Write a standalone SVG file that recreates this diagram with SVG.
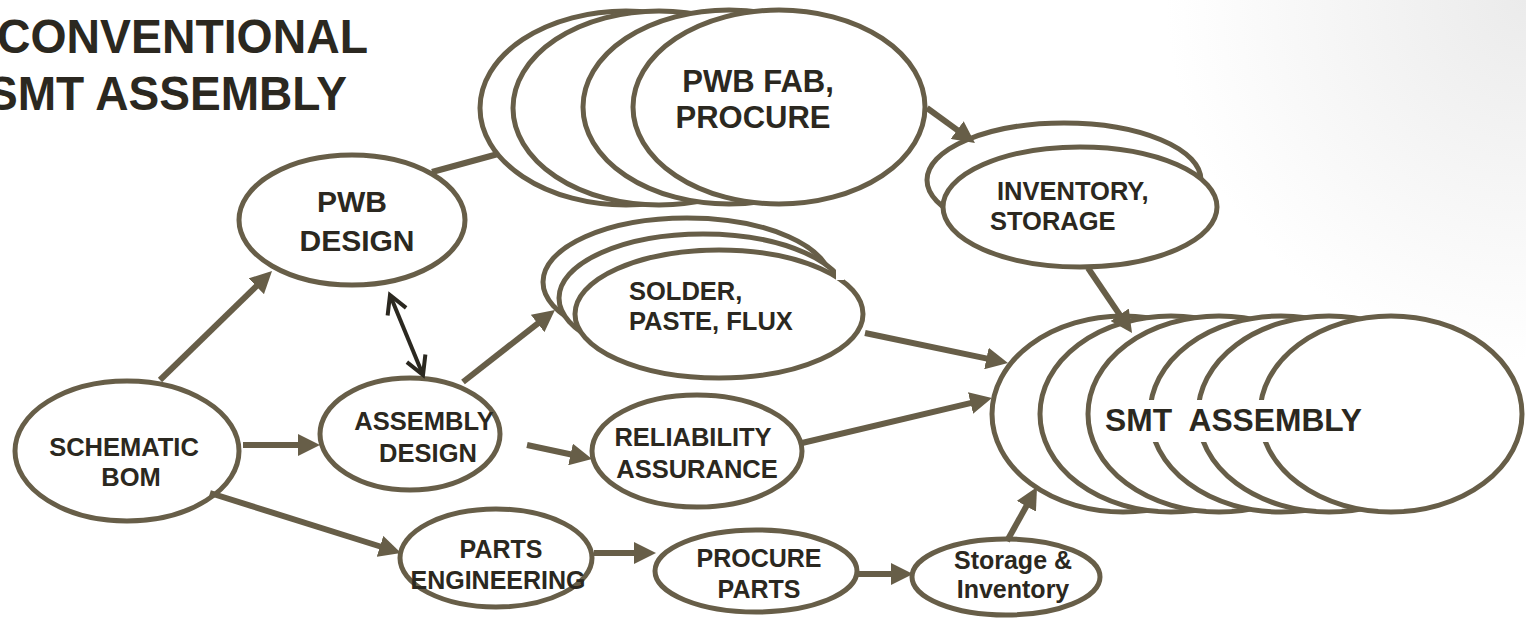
<svg xmlns="http://www.w3.org/2000/svg" width="1526" height="623" viewBox="0 0 1526 623">
<defs>
<radialGradient id="bg" cx="1526" cy="0" r="360" gradientUnits="userSpaceOnUse">
<stop offset="0" stop-color="#ebebeb"/>
<stop offset="1" stop-color="#ffffff"/>
</radialGradient>
<marker id="ah" viewBox="0 -11 22 22" refX="2" refY="0" markerWidth="22" markerHeight="22" markerUnits="userSpaceOnUse" orient="auto">
<path d="M0,-11 L22,0 L0,11 Z" fill="#675e48"/>
</marker>
<marker id="oh" viewBox="-22 -12 28 24" refX="0" refY="0" markerWidth="28" markerHeight="24" markerUnits="userSpaceOnUse" orient="auto-start-reverse">
<path d="M-18,-10 L0,0 L-18,10" fill="none" stroke="#2b2820" stroke-width="4"/>
</marker>
<style>
.n { fill:#ffffff; stroke:#675e48; stroke-width:5; }
.t { font-family:"Liberation Sans", Arial, sans-serif; font-weight:bold; fill:#2b2820; }
.m { text-anchor:middle; }
.c { fill:none; stroke:#675e48; stroke-width:6; marker-end:url(#ah); }
.l { fill:none; stroke:#675e48; stroke-width:6; }
.d { fill:none; stroke:#2b2820; stroke-width:4; marker-start:url(#oh); marker-end:url(#oh); }
</style>
</defs>
<rect x="0" y="0" width="1526" height="623" fill="url(#bg)"/>

<g id="title" class="t" font-size="48">
<text x="-3" y="53" textLength="371" lengthAdjust="spacingAndGlyphs">CONVENTIONAL</text>
<text x="-13" y="110" textLength="360" lengthAdjust="spacingAndGlyphs">SMT ASSEMBLY</text>
</g>

<g id="schematic-bom">
<ellipse class="n" cx="127" cy="451" rx="112" ry="70"/>
<text class="t m" font-size="25.5" x="124" y="456">SCHEMATIC</text>
<text class="t m" font-size="25.5" x="131" y="486">BOM</text>
</g>

<g id="pwb-design">
<ellipse class="n" cx="352" cy="220" rx="113" ry="65"/>
<text class="t m" font-size="30" x="352" y="212">PWB</text>
<text class="t m" font-size="30" x="357" y="251">DESIGN</text>
</g>

<g id="assembly-design">
<ellipse class="n" cx="410" cy="434" rx="90" ry="56"/>
<text class="t m" font-size="25.5" x="424" y="430">ASSEMBLY</text>
<text class="t m" font-size="25.5" x="428" y="462">DESIGN</text>
</g>

<g id="pwb-fab">
<ellipse class="n" cx="626" cy="108" rx="146" ry="97"/>
<ellipse class="n" cx="659" cy="108" rx="146" ry="97"/>
<ellipse class="n" cx="729" cy="107" rx="146" ry="97"/>
<ellipse class="n" cx="779" cy="107" rx="146" ry="97"/>
<text class="t m" font-size="31" x="758" y="92">PWB FAB,</text>
<text class="t m" font-size="31" x="753" y="128">PROCURE</text>
</g>

<g id="inventory-storage">
<ellipse class="n" cx="1064" cy="180" rx="137" ry="57"/>
<ellipse class="n" cx="1080" cy="207" rx="137" ry="60"/>
<text class="t" font-size="25.5" x="997" y="200">INVENTORY,</text>
<text class="t" font-size="25.5" x="990" y="230">STORAGE</text>
</g>

<g id="solder-paste-flux">
<ellipse class="n" cx="687" cy="282" rx="144" ry="64"/>
<ellipse class="n" cx="703" cy="298" rx="144" ry="64"/>
<ellipse class="n" cx="719" cy="314" rx="144" ry="64"/>
<rect x="836" y="270" width="8" height="10" fill="#ffffff"/>
<text class="t" font-size="25.5" x="629" y="300">SOLDER,</text>
<text class="t" font-size="25.5" x="629" y="330">PASTE, FLUX</text>
</g>

<g id="reliability-assurance">
<ellipse class="n" cx="697" cy="451" rx="105" ry="56"/>
<text class="t m" font-size="25.5" x="693" y="446">RELIABILITY</text>
<text class="t m" font-size="25.5" x="697" y="478">ASSURANCE</text>
</g>

<g id="smt-assembly">
<ellipse class="n" cx="1123" cy="414" rx="131" ry="98"/>
<ellipse class="n" cx="1171" cy="414" rx="131" ry="98"/>
<ellipse class="n" cx="1219" cy="414" rx="131" ry="98"/>
<ellipse class="n" cx="1281" cy="414" rx="131" ry="98"/>
<ellipse class="n" cx="1329" cy="414" rx="131" ry="98"/>
<ellipse class="n" cx="1391" cy="414" rx="131" ry="98"/>
<rect x="1100" y="400" width="266" height="42" fill="#ffffff"/>
<text class="t" font-size="31.5" x="1105" y="431" style="white-space:pre" textLength="257" lengthAdjust="spacingAndGlyphs">SMT  ASSEMBLY</text>
</g>

<g id="parts-engineering">
<ellipse class="n" cx="496" cy="558" rx="96" ry="49"/>
<text class="t m" font-size="25" x="501" y="558">PARTS</text>
<text class="t m" font-size="25" x="498" y="589">ENGINEERING</text>
</g>

<g id="procure-parts">
<ellipse class="n" cx="756" cy="571" rx="101" ry="41"/>
<text class="t m" font-size="25" x="759" y="567">PROCURE</text>
<text class="t m" font-size="25" x="759" y="598">PARTS</text>
</g>

<g id="storage-inventory">
<ellipse class="n" cx="1006" cy="577" rx="94" ry="38"/>
<text class="t m" font-size="25" x="1013" y="569">Storage &amp;</text>
<text class="t m" font-size="25" x="1013" y="598">Inventory</text>
</g>

<g id="connectors">
<line class="l" x1="432" y1="172" x2="498" y2="154"/>
<line class="c" x1="160" y1="380" x2="257.7" y2="284.9"/>
<line class="c" x1="243" y1="445" x2="300" y2="445"/>
<line class="c" x1="210" y1="493" x2="381.9" y2="547"/>
<line class="c" x1="463" y1="382" x2="539.2" y2="322.3"/>
<line class="c" x1="527" y1="445" x2="572.5" y2="454.8"/>
<line class="c" x1="802" y1="443" x2="972.5" y2="402.6"/>
<line class="c" x1="865" y1="333" x2="988.4" y2="358.9"/>
<line class="c" x1="927" y1="108" x2="958.8" y2="131.2"/>
<line class="c" x1="1088" y1="268" x2="1120.8" y2="316.4"/>
<line class="c" x1="594" y1="553" x2="636" y2="553"/>
<line class="c" x1="858" y1="574" x2="893" y2="574"/>
<line class="c" x1="1007" y1="541" x2="1027.3" y2="504.5"/>
<line class="d" x1="390" y1="295" x2="423" y2="375"/>
</g>
</svg>
